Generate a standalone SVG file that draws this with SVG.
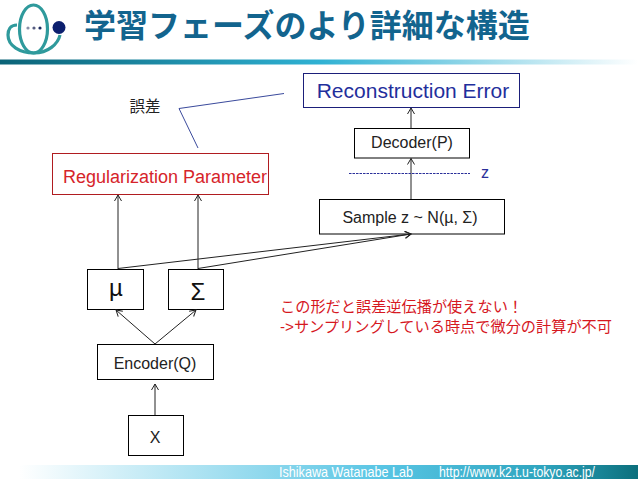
<svg xmlns="http://www.w3.org/2000/svg" width="638" height="479" viewBox="0 0 638 479">
<defs>
<linearGradient id="top" x1="0" x2="1" y1="0" y2="0"><stop offset="0" stop-color="#0b6377"/><stop offset="0.5" stop-color="#2fb1d3"/><stop offset="1" stop-color="#ffffff"/></linearGradient>
<linearGradient id="bot" x1="0" x2="1" y1="0" y2="0"><stop offset="0.03" stop-color="#ffffff"/><stop offset="0.6" stop-color="#58c5e4"/><stop offset="0.85" stop-color="#2fa5bf"/><stop offset="1" stop-color="#0b6f7c"/></linearGradient>
<marker id="a" markerWidth="9" markerHeight="9" refX="7" refY="4" orient="auto" markerUnits="userSpaceOnUse"><path d="M1 0.5L7 4L1 7.5" fill="none" stroke="#222" stroke-width="1"/></marker>
</defs>
<style>
text{font-family:"Liberation Sans","Noto Sans CJK JP",sans-serif}
.b{fill:#fff;stroke:#000;stroke-width:1}
.t{font-size:16px;fill:#222;text-anchor:middle}
.c{fill:none;stroke:#222;stroke-width:1;marker-end:url(#a)}
.n{fill:none;stroke:#222;stroke-width:1}
.r{font-size:15.2px;fill:#d6181f}
</style>
<rect width="638" height="479" fill="#fff"/>
<g id="logo" fill="none">
<ellipse cx="33.500" cy="29" rx="14" ry="24" stroke="#2f9a9c" stroke-width="3.200"/>
<path d="M17 25C10 25 8 30 8 35C8 46 20 53 34 53C48 53 58 44 60 35" stroke="#2f9a9c" stroke-width="3.200"/>
<circle cx="59" cy="27.500" r="6.500" fill="#0c1f6e"/>
<circle cx="28" cy="28" r="1.600" fill="#8a8fa8"/><circle cx="34" cy="28" r="1.600" fill="#555c80"/><circle cx="40" cy="28" r="1.600" fill="#1c2a60"/>
</g>
<text id="title" x="84" y="37" font-size="32" font-weight="bold" fill="#12648e" style="font-family:'Noto Sans CJK JP',sans-serif">学習フェーズのより詳細な構造</text>
<rect id="top-rule" x="0" y="59.500" width="638" height="5" fill="url(#top)"/>
<rect id="bottom-band" x="0" y="465" width="638" height="14" fill="url(#bot)"/>
<text id="footer-lab" x="279" y="477" font-size="14.500" fill="#fff" textLength="134" lengthAdjust="spacingAndGlyphs">Ishikawa Watanabe Lab</text>
<text id="footer-url" x="439" y="477" font-size="14.500" fill="#fff" textLength="156" lengthAdjust="spacingAndGlyphs">http://www.k2.t.u-tokyo.ac.jp/</text>
<g id="reconstruction"><rect x="303.500" y="73.500" width="216" height="34" fill="#fff" stroke="#1b1f7a"/><text x="413" y="98" font-size="21" fill="#1f2f9c" text-anchor="middle">Reconstruction Error</text></g>
<g id="decoder"><rect class="b" x="354.500" y="128.500" width="115" height="29.500"/><text class="t" x="412" y="148">Decoder(P)</text></g>
<g id="z-label"><text x="485" y="178" font-size="16" fill="#2a2f9a" text-anchor="middle">z</text></g>
<g id="sample"><rect class="b" x="319.500" y="199.500" width="185" height="34.500"/><text class="t" x="410" y="223">Sample z ~ N(µ, Σ)</text></g>
<g id="regularization"><rect x="52.500" y="153.500" width="216" height="41" fill="#fff" stroke="#b01c20"/><text x="165" y="183" font-size="18" fill="#d6242a" text-anchor="middle">Regularization Parameter</text></g>
<g id="gosa"><text x="145" y="112" font-size="15.500" fill="#222" text-anchor="middle">誤差</text></g>
<g id="mu"><rect class="b" x="87.500" y="269.500" width="56" height="40"/><text x="116" y="296" font-size="24" fill="#111" text-anchor="middle">µ</text></g>
<g id="sigma"><rect class="b" x="168.500" y="269.500" width="55" height="40"/><text x="198" y="300" font-size="24" fill="#111" text-anchor="middle">Σ</text></g>
<g id="encoder"><rect class="b" x="97.500" y="344.500" width="116" height="35"/><text class="t" x="155" y="369">Encoder(Q)</text></g>
<g id="x"><rect class="b" x="128.500" y="415.500" width="55" height="40"/><text class="t" x="155" y="443">X</text></g>
<g id="note"><text class="r" x="280" y="312">この形だと誤差逆伝播が使えない！</text><text class="r" x="280" y="332">->サンプリングしている時点で微分の計算が不可</text></g>
<g id="connectors">
<path class="n" d="M198 148L179 108.500L284 93.500" style="stroke:#3a4a9c"/>
<path class="c" d="M118 269V195"/>
<path class="c" d="M198 269V195"/>
<path class="c" d="M118 268.500L411 234"/>
<path class="c" d="M198 268.500L411 234"/>
<path class="c" d="M411 199V158.500"/>
<path class="c" d="M411 128.500V108"/>
<path class="n" d="M349 173.500H470" stroke-dasharray="2.500 1" style="stroke:#2a2f9a"/>
<path class="c" d="M155 344L116 310"/>
<path class="c" d="M155 344L196 310"/>
<path class="c" d="M155 415V384"/>
</g>
</svg>
